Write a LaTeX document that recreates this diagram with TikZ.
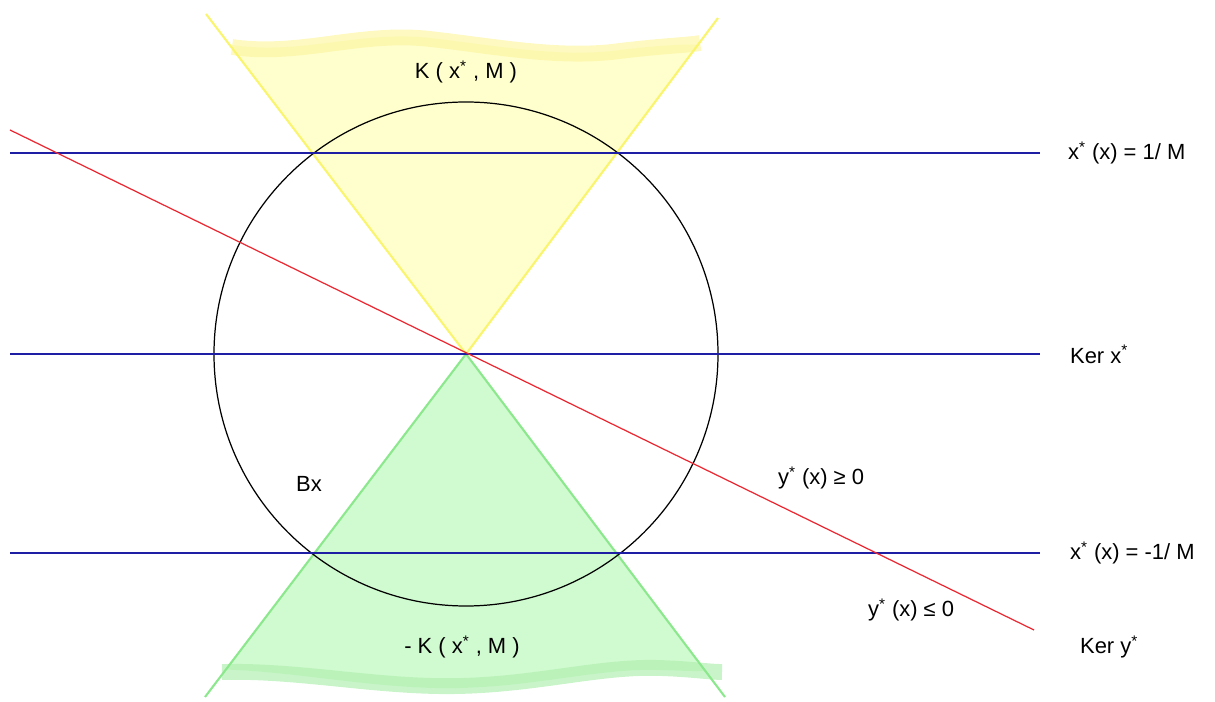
\documentclass[tikz,border=0pt]{standalone}
\usepackage{fontspec}
\setmainfont{Liberation Sans}
\usetikzlibrary{positioning, calc}
\definecolor{conecol}{RGB}{250,245,110}
\definecolor{conefill}{RGB}{255,255,205}
\definecolor{coneband}{RGB}{252,246,165}
\definecolor{negcol}{RGB}{140,232,140}
\definecolor{negfill}{RGB}{208,250,208}
\definecolor{negband}{RGB}{178,240,178}
\definecolor{levelcol}{RGB}{30,30,165}
\definecolor{kercol}{RGB}{235,40,50}
\newcommand{\st}{\textsuperscript{*}}

\begin{document}
\begin{tikzpicture}[x=0.02cm, y=-0.02cm, every node/.style={font=\fontsize{12.5}{14}\selectfont, inner sep=1pt},
  level/.style={levelcol, line width=0.75pt}, label/.style={anchor=west}]
  \useasboundingbox (0,0) rectangle (1215,702);
  \coordinate (O) at (466,354);
  \coordinate (ul) at (206,14);
  \coordinate (ur) at (718,18);
  \coordinate (dl) at (205,697);
  \coordinate (dr) at (725,697);
  \fill[conefill] (O) -- ($(O)!0.91!(ul)$) .. controls (300,56) and (360,30) .. (430,38)
       .. controls (500,46) and (560,58) .. (620,50) .. controls (660,45) and (690,44) .. ($(O)!0.92!(ur)$) -- cycle;
  \draw[coneband, line width=9pt, opacity=0.7] (232,47) .. controls (300,57) and (360,31) .. (430,39)
       .. controls (500,47) and (560,59) .. (620,51) .. controls (660,46) and (690,45) .. (700,43);
  \fill[negfill] (O) -- ($(O)!0.92!(dl)$) .. controls (300,672) and (380,690) .. (460,688)
       .. controls (540,686) and (600,668) .. (660,670) .. controls (690,671) and (710,672) .. ($(O)!0.92!(dr)$) -- cycle;
  \draw[negband, line width=9pt, opacity=0.7] (222,672) .. controls (300,670) and (380,688) .. (460,686)
       .. controls (540,684) and (600,666) .. (660,668) .. controls (690,669) and (710,672) .. (722,672);
  \draw[conecol, line width=1.2pt] (ul) -- (O) -- (ur);
  \draw[negcol, line width=1.2pt] (dl) -- (O) -- (dr);
  \draw[black, line width=0.7pt] (O) circle (252);
  \draw[level] (10,153) -- (1040,153);
  \draw[level] (10,354) -- (1040,354);
  \draw[level] (10,553) -- (1040,553);
  \draw[kercol, line width=0.7pt] (10,130) -- (1034,630);
  \node (cone) at (466,72) {K ( x\st\ , M )};
  \node (negcone) at (462,647) {- K ( x\st\ , M )};
  \node (ball) at (309,484) {Bx};
  \node[label] (lvlup) at (1066,153) {x\st\ (x) = 1/ M};
  \node[label] (kerx) at (1068,354) {Ker x\st};
  \node[label] (lvldown) at (1068,553) {x\st\ (x) = -1/ M};
  \node[label] (pos) at (776,478) {y\st\ (x) ≥ 0};
  \node[label] (neg) at (866,610) {y\st\ (x) ≤ 0};
  \node[label] (kery) at (1078,647) {Ker y\st};
\end{tikzpicture}
\end{document}
